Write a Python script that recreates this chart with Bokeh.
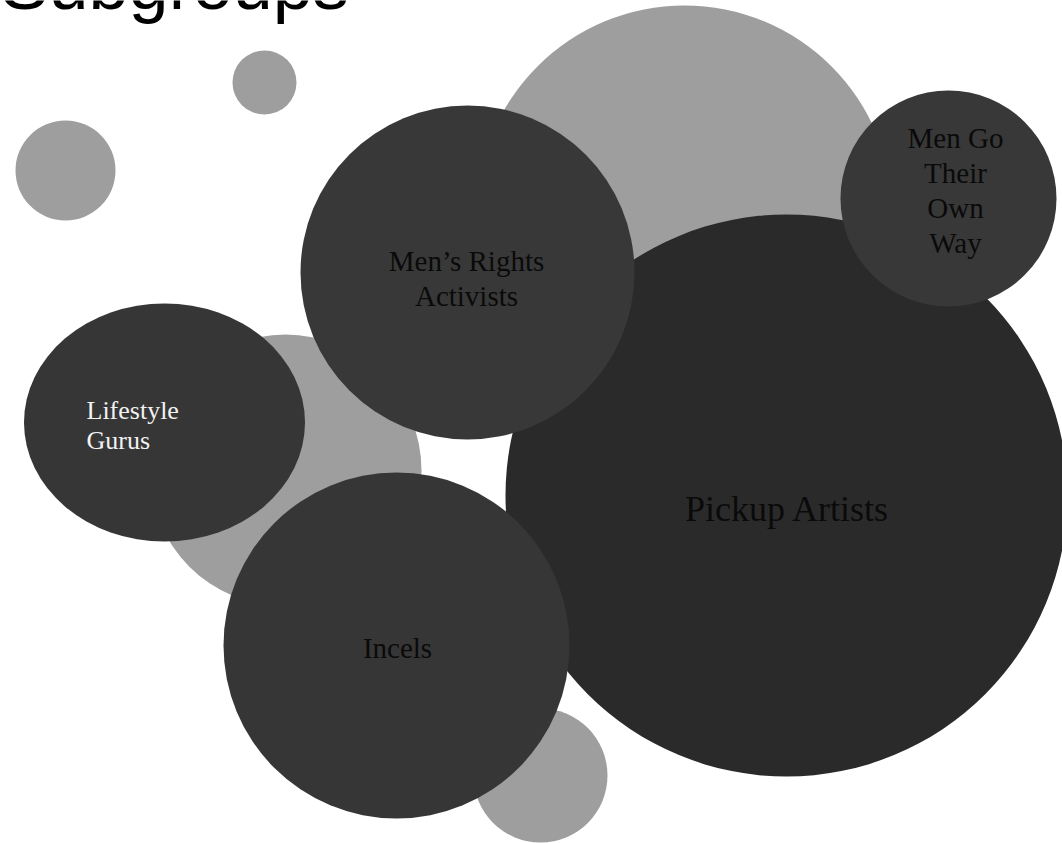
from bokeh.plotting import figure
from bokeh.models import Range1d, Label
from bokeh.core.properties import value
from bokeh.embed import file_html
from bokeh.resources import INLINE

# ---- data (page-pixel coordinates) ----
title = "Subgroups"

# light background bubbles
bg_x = [264, 65, 684, 285, 540]
bg_y = [82, 170, 213, 470, 775]
bg_r = [32, 50, 208, 136, 67]

# dark labelled bubbles (drawing order)
grp_names = ["Pickup Artists", "Men Go Their Own Way", "Men\u2019s Rights Activists", "Incels"]
grp_x = [786, 948, 467, 396]
grp_y = [495, 198, 272, 645]
grp_r = [281, 108, 167, 173]
grp_color = ["#2a2a2a", "#383838", "#383838", "#363636"]

# lifestyle gurus is an ellipse
ell_name = "Lifestyle Gurus"
ell_x = [164]
ell_y = [422]
ell_w = [281]
ell_h = [238]

# label lines
label_lines = [["Pickup Artists"], ["Men Go", "Their", "Own", "Way"],
               ["Men\u2019s Rights", "Activists"], ["Incels"], ["Lifestyle", "Gurus"]]
label_x = [787, 955, 466, 397, 86]
label_y0 = [518, 145, 268, 655, 417]
label_step = [0, 35, 35, 0, 30]
label_size = [36, 29, 29, 29, 26]
label_color = ["#0a0a0a", "#0a0a0a", "#0a0a0a", "#0a0a0a", "#f2f2f2"]
label_align = ["center", "center", "center", "center", "left"]

BASE_SHIFT = 0.27  # empirical correction of the alphabetic baseline (fraction of font size)

W, H = 1062, 843
p = figure(width=W, height=H, output_backend="svg", toolbar_location=None,
           x_range=Range1d(0, W), y_range=Range1d(H, 0),
           min_border=0, background_fill_color="white", border_fill_color="white")
p.axis.visible = False
p.grid.visible = False
p.outline_line_color = None

p.circle(x=bg_x, y=bg_y, radius=bg_r, fill_color="#9e9e9e", line_color=None)
for i in range(len(grp_names)):
    if i == 3:
        p.ellipse(x=ell_x, y=ell_y, width=ell_w, height=ell_h,
                  fill_color="#363636", line_color=None)
    p.circle(x=[grp_x[i]], y=[grp_y[i]], radius=[grp_r[i]],
             fill_color=grp_color[i], line_color=None)

for lines, x0, y0, st, sz, col, al in zip(label_lines, label_x, label_y0, label_step,
                                           label_size, label_color, label_align):
    xs = [x0] * len(lines)
    ys = [y0 + k * st - BASE_SHIFT * sz for k in range(len(lines))]
    p.text(x=xs, y=ys, text=lines, text_font=value("Liberation Serif"),
           text_font_size=f"{sz}px", text_color=col, text_align=al,
           text_baseline="alphabetic")

title_size = 72
p.add_layout(Label(x=0, y=-17, text=title,
                   text_font="Liberation Sans", text_font_size=f"{title_size}px",
                   text_color="#000000", text_align="left",
                   text_baseline="alphabetic"))

open("out.html", "w").write(file_html(p, INLINE))
